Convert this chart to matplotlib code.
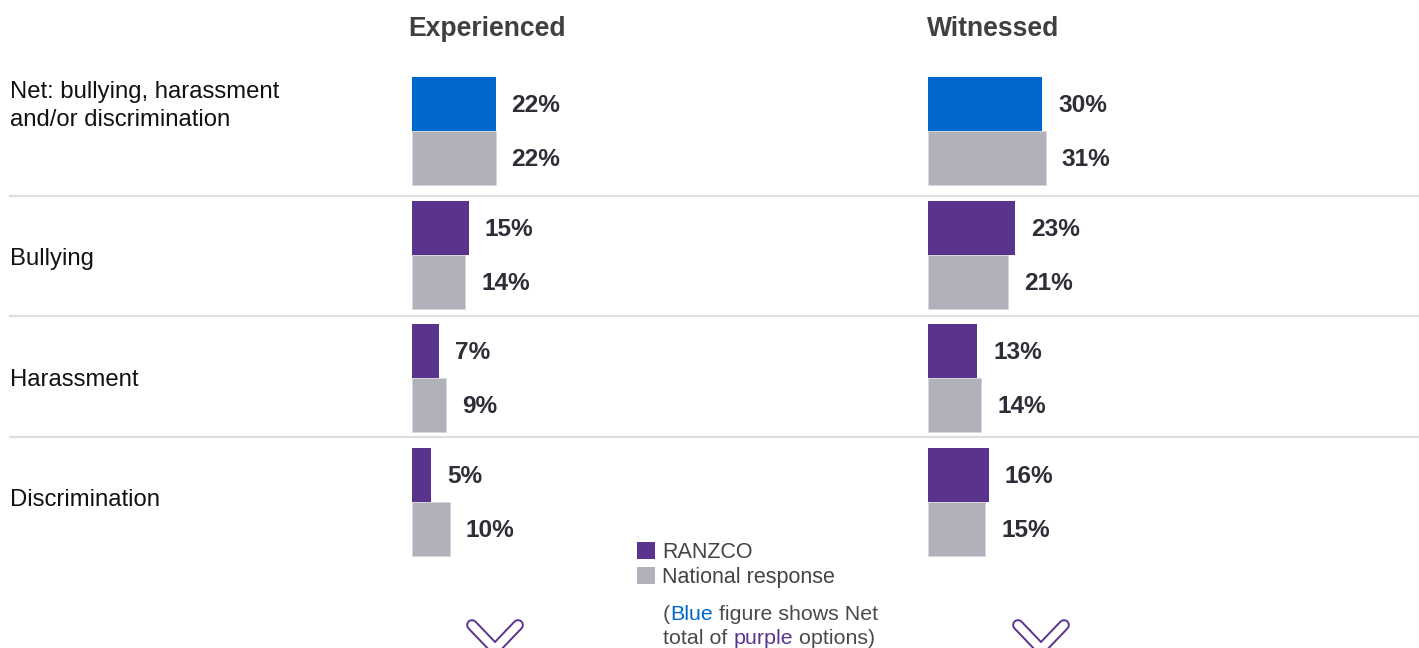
import matplotlib
matplotlib.use("Agg")
import matplotlib.pyplot as plt
import numpy as np
from matplotlib.patches import Patch
from matplotlib.lines import Line2D

plt.rcParams['font.family'] = ['Liberation Sans', 'DejaVu Sans']

# data
rows = ["Net: bullying, harassment\nand/or discrimination", "Bullying", "Harassment", "Discrimination"]
panels = ["Experienced", "Witnessed"]
exp_ranzco = [22, 15, 7, 5]
exp_national = [22, 14, 9, 10]
wit_ranzco = [30, 23, 13, 16]
wit_national = [31, 21, 14, 15]
legend_labels = ["RANZCO", "National response"]

# colours
BLUE = "#0068cc"
PURPLE = "#59338c"
GREY = "#b1b1bb"
LABEL = "#2e2e38"
SEP = "#dedede"

W, H = 1419, 648
fig = plt.figure(figsize=(W / 100, H / 100), dpi=100)

# vertical placement (pixels) shared by all axes
top_px, bot_px = 69.15, 563.85
ax_bottom = 1 - bot_px / H
ax_height = (bot_px - top_px) / H
px_per_pct = 3.8
pitch = 123.67
bar_h = 54 / pitch
y = np.arange(len(rows))
dy = 1.5 / pitch  # small nudge so text sits centred on its bar

# background axes: separators and row labels
bg = fig.add_axes([0, ax_bottom, 1, ax_height], zorder=0)
bg.set_xlim(0, 1)
bg.set_ylim(len(rows) - 0.5, -0.5)
bg.axis("off")
for s in [0.525, 1.496, 2.474]:
    bg.plot([9 / W, 1], [s, s], color=SEP, lw=1.6, solid_capstyle="butt")
label_nudge = [0, 4, 2, -2]  # px
for i, lab in enumerate(rows):
    if i == 0:
        bg.text(10 / W, i - bar_h + 0.03, lab, ha="left", va="top", fontsize=17.2,
                color="#111111", linespacing=1.38)
    else:
        bg.text(10 / W, i + label_nudge[i] / pitch, lab, ha="left", va="center",
                fontsize=17.2, color="#111111")

# bar panels
panel_left = [412, 928]
panel_right = [928, 1419]
data = [(exp_ranzco, exp_national), (wit_ranzco, wit_national)]
ranzco_colors = [BLUE, PURPLE, PURPLE, PURPLE]
for k, (ranzco, national) in enumerate(data):
    l, r = panel_left[k], panel_right[k]
    ax = fig.add_axes([l / W, ax_bottom, (r - l) / W, ax_height], zorder=1)
    ax.patch.set_alpha(0)
    ax.set_xlim(0, (r - l) / px_per_pct)
    ax.set_ylim(len(rows) - 0.5, -0.5)
    ax.axis("off")
    ax.barh(y - bar_h / 2, ranzco, height=bar_h, color=ranzco_colors, linewidth=0)
    ax.barh(y + bar_h / 2, national, height=bar_h, color=GREY,
            edgecolor="#d6d6dc", linewidth=0.6)
    off = 16 / px_per_pct
    for i in range(len(rows)):
        ax.text(ranzco[i] + off, y[i] - bar_h / 2 + dy, f"{ranzco[i]}%", ha="left", va="center",
                fontsize=17.6, fontweight="bold", color=LABEL)
        ax.text(national[i] + off, y[i] + bar_h / 2 + dy, f"{national[i]}%", ha="left",
                va="center", fontsize=17.6, fontweight="bold", color=LABEL)

# panel headings
fig.text(408 / W, 1 - 29 / H, panels[0], ha="left", va="center", fontsize=19.1,
         fontweight="bold", color="#404040")
fig.text(927 / W, 1 - 29 / H, panels[1], ha="left", va="center", fontsize=19.1,
         fontweight="bold", color="#404040")

# legend
handles = [Patch(facecolor=PURPLE, edgecolor="none"), Patch(facecolor=GREY, edgecolor="none")]
fig.legend(handles, legend_labels, loc="upper left", bbox_to_anchor=(637 / W, 1 - 542 / H),
           frameon=False, borderpad=0, borderaxespad=0, handlelength=0.82, handleheight=0.82,
           handletextpad=0.36, labelspacing=0.18, fontsize=15.5, labelcolor="#444444")

# note with coloured words
NOTE = "#4a4a4a"
line1 = [("(", NOTE), ("Blue", BLUE), (" figure shows Net", NOTE)]
line2 = [("total of ", NOTE), ("purple", PURPLE), (" options)", NOTE)]
for parts, ypx in [(line1, 614), (line2, 638)]:
    prev = fig.text(663 / W, 1 - ypx / H, parts[0][0], color=parts[0][1], fontsize=15.4,
                    ha="left", va="center")
    for txt, col in parts[1:]:
        prev = fig.add_artist(plt.Annotation(txt, xy=(1, 0), xycoords=prev, va="bottom",
                                             ha="left", color=col, fontsize=15.4))

# chevrons below each panel
for cx in [495, 1041]:
    xs = np.array([cx - 23, cx, cx + 23]) / W
    ys = 1 - np.array([625, 649, 625]) / H
    fig.add_artist(Line2D(xs, ys, transform=fig.transFigure, color=PURPLE, lw=8.4,
                          solid_capstyle="round", solid_joinstyle="miter"))
    fig.add_artist(Line2D(xs, ys, transform=fig.transFigure, color="white", lw=5.6,
                          solid_capstyle="round", solid_joinstyle="miter"))

fig.savefig("out.png", dpi=100, facecolor="white")
